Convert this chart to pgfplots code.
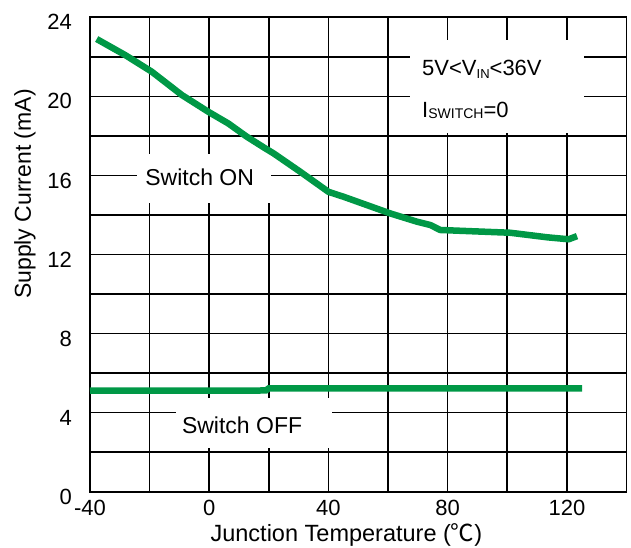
\documentclass[border=0pt]{standalone}
\usepackage{pgfplots}
\pgfplotsset{compat=1.18}
\usepackage{fontspec}
\setmainfont{Liberation Sans}
\newfontfamily\cjk{Noto Sans CJK SC}
\definecolor{curvegreen}{RGB}{0,152,70}
\begin{document}
\begin{tikzpicture}
\useasboundingbox (-90bp,-56.3bp) rectangle (541bp,491.7bp);
\begin{axis}[
  scale only axis,
  width=536.5bp, height=474.4bp,
  xmin=-40, xmax=140, ymin=0, ymax=24,
  xtick={-40,-20,...,140},
  xticklabels={-40,,0,,40,,80,,120,},
  ytick={0,2,...,24},
  yticklabels={0,,4,,8,,12,,16,,20,,24},
  major tick length=0pt,
  grid=major,
  grid style={black, line width=1.6bp},
  axis line style={black, line width=1.6bp},
  tick label style={font=\fontsize{22bp}{26bp}\selectfont, inner sep=0pt},
  yticklabel style={anchor=east, xshift=-18bp, yshift=-5bp},
  xticklabel style={anchor=north, yshift=-8bp},
  xlabel={Junction Temperature ({\cjk ℃})},
  xlabel style={font=\fontsize{23.5bp}{27bp}\selectfont, at={(rel axis cs:0.478,0)}, anchor=base, yshift=-50bp, inner sep=0pt},
  ylabel={Supply Current (mA)},
  ylabel style={font=\fontsize{23bp}{27bp}\selectfont, at={(rel axis cs:0,0.6275)}, anchor=center, yshift=65bp, inner sep=0pt},
  clip=false,
]
% white label boxes that interrupt the grid
\fill[white] (axis cs:-24.2,14.6) rectangle (axis cs:20.8,17.08);
\fill[white] (axis cs:-11.1,2.2) rectangle (axis cs:41.2,4.74);
\fill[white] (axis cs:67.5,18.13) rectangle (axis cs:125.9,22.85);

\addplot[curvegreen, line width=6.5bp, line join=round] coordinates {
(-37.75,22.9) (-28.2,22.09) (-19.3,21.25) (-9.2,20.07) (-0.3,19.22) (6.4,18.63)
(12.6,17.96) (18.8,17.37) (21.55,17.12) (30.5,16.19) (40.0,15.17) (45.1,14.92)
(60.7,14.08) (69.7,13.66) (74.2,13.49) (77.5,13.24) (101.0,13.1) (113.4,12.87)
(120.6,12.77) (123.4,12.93)
};
\addplot[curvegreen, line width=6.5bp] coordinates {
(-40,5.11) (19,5.12) (20,5.23) (125.1,5.23)
};

\node[anchor=base west, inner sep=0pt, font=\fontsize{23bp}{27bp}\selectfont] at (axis cs:-21.5,15.51) {Switch ON};
\node[anchor=base west, inner sep=0pt, font=\fontsize{23bp}{27bp}\selectfont] at (axis cs:-9.2,2.92) {Switch OFF};
\node[anchor=base west, inner sep=0pt, font=\fontsize{22bp}{26bp}\selectfont] at (axis cs:71.4,21.08) {5V<V\raisebox{-3bp}{\fontsize{13bp}{15bp}\selectfont IN}<36V};
\node[anchor=base west, inner sep=0pt, font=\fontsize{22bp}{26bp}\selectfont] at (axis cs:71.4,18.94) {I\raisebox{-1bp}{\fontsize{14bp}{16bp}\selectfont SWITCH}=0};
\end{axis}
\end{tikzpicture}
\end{document}
